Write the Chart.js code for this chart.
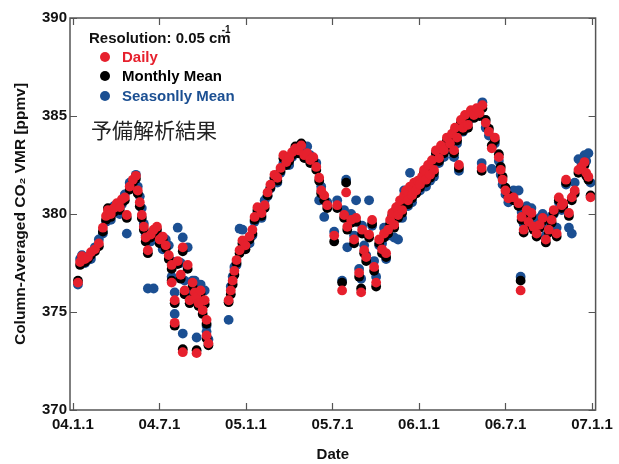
<!DOCTYPE html>
<html>
<head>
<meta charset="utf-8">
<script src="https://cdn.jsdelivr.net/npm/chart.js@4"></script>
<style>
  html, body { margin: 0; padding: 0; background: #fff; }
</style>
</head>
<body>
<canvas id="co2Chart" width="619" height="464"></canvas>
<script>
// x positions are months after 2004-01-01
const tickMonths = [0, 6, 12, 18, 24, 30, 36];
const tickLabels = ['04.1.1', '04.7.1', '05.1.1', '05.7.1', '06.1.1', '06.7.1', '07.1.1'];
const yTicks = [370, 375, 380, 385, 390];

const obsMonth = [
  0.35, 0.5, 0.63, 0.84, 1.04, 1.25, 1.53, 1.8, 2.08, 2.3,
  2.43, 2.63, 2.84, 3.05, 3.25, 3.4, 3.6, 3.74, 3.94, 4.16,
  4.37, 4.5, 4.64, 4.78, 4.92, 5.05, 5.2, 5.4, 5.6, 5.83,
  6.02, 6.23, 6.44, 6.65, 6.85, 6.85, 7.06, 7.06, 7.27, 7.48,
  7.62, 7.75, 7.96, 8.1, 8.3, 8.45, 8.58, 8.72, 8.86, 9.0,
  9.14, 9.27, 7.62, 8.58, 9.27, 9.4,
  10.8, 10.95, 11.08, 11.2, 11.35, 11.56, 11.76, 11.97, 12.25, 12.45,
  12.6, 12.8, 13.08, 13.3, 13.5, 13.7, 13.98, 14.18, 14.4, 14.6,
  14.8, 15.0, 15.2, 15.43, 15.63, 15.84, 16.05, 16.25, 16.46, 16.67,
  16.88, 17.08, 17.22, 17.43, 17.64, 18.12, 18.33, 18.67, 18.81, 18.95,
  19.03, 19.3, 19.5, 19.64, 19.85, 19.99, 20.06, 20.2, 20.34, 20.54,
  20.75, 20.89, 21.03,
  21.24, 21.44, 21.58, 21.72, 21.86, 22.0, 22.14, 22.28, 22.42, 22.55,
  22.69, 22.83, 22.97, 23.1, 23.24, 23.38, 23.52, 23.66, 23.8, 23.93,
  24.07, 24.21, 24.35, 24.49, 24.63, 24.77, 24.9, 25.04, 25.18, 25.39,
  25.53, 25.73, 25.94, 26.15, 26.29, 26.43, 26.5, 26.64, 26.77, 26.91,
  27.05, 27.19, 27.4, 27.6, 27.81, 28.0, 28.2, 28.4, 28.35,
  28.63, 28.85, 29.05, 29.26, 29.54, 29.67, 29.8, 30.0, 30.2, 30.56,
  30.91, 31.05, 31.12, 31.26, 31.47, 31.6, 31.8, 31.95, 32.16, 32.37,
  32.58, 32.8, 33.0, 33.2, 33.35, 33.55, 33.7, 33.9, 34.0, 34.2,
  34.4, 34.6, 34.8, 35.06, 35.27, 35.48, 35.6, 35.75, 35.9
];

const daily = [
  376.5, 377.55, 377.85, 377.7, 377.8, 378.05, 378.2, 378.5, 379.3, 379.9,
  380.2, 380.0, 380.3, 380.55, 380.35, 380.75, 380.85, 379.95, 381.4, 381.75,
  381.95, 381.2, 380.6, 379.95, 379.35, 378.8, 378.15, 378.95, 379.2, 379.35,
  378.7, 378.85, 378.4, 377.9, 377.4, 376.5, 375.6, 374.45, 377.6, 376.9,
  378.3, 376.1, 377.4, 375.6, 376.5, 376.0, 375.75, 375.45, 376.1, 375.1,
  375.6, 374.6, 372.95, 372.9, 373.8, 373.4,
  375.6, 376.1, 376.6, 377.1, 377.65, 378.15, 378.65, 378.4, 378.85, 379.2,
  379.85, 380.35, 380.05, 380.45, 381.1, 381.5, 382.0, 381.85, 382.35, 383.0,
  382.65, 382.85, 383.15, 383.35, 383.25, 383.5, 383.0, 383.1, 382.75, 382.9,
  382.4, 381.85, 381.2, 380.95, 380.45, 378.9, 380.45, 376.1, 379.95, 381.1,
  379.35, 379.7, 378.7, 379.8, 377.0, 376.0, 379.2, 378.15, 377.8, 378.95,
  379.7, 377.3, 376.5,
  378.7, 378.2, 379.0, 378.0, 379.2, 379.7, 380.05, 379.45, 380.35, 379.95,
  380.7, 380.2, 380.95, 381.2, 380.7, 381.4, 380.95, 381.6, 381.2, 381.7,
  381.5, 381.9, 382.25, 381.75, 382.5, 382.0, 382.75, 382.25, 383.25, 382.85,
  383.5, 383.25, 383.9, 383.6, 384.1, 383.25, 384.4, 383.9, 382.5, 384.8,
  384.4, 385.05, 384.55, 385.3, 385.05, 385.4, 385.15, 385.55, 382.35,
  384.65, 384.2, 383.35, 383.9, 382.9, 382.25, 381.75, 381.2, 380.8, 380.85,
  380.55, 376.1, 379.85, 379.2, 380.2, 379.6, 380.05, 379.35, 379.0, 379.45,
  379.8, 378.7, 379.2, 379.7, 380.2, 379.0, 380.85, 380.45, 380.55, 381.75,
  380.05, 380.85, 381.2, 382.25, 382.4, 382.65, 382.1, 381.9, 380.85
];

const monthlyMean = [
  376.6, 377.4, 377.7, 377.55, 377.7, 377.9, 378.1, 378.35, 379.1, 379.7,
  380.3, 379.85, 380.1, 380.4, 380.2, 380.6, 380.7, 379.8, 381.25, 381.6,
  381.8, 381.05, 380.4, 379.8, 379.2, 378.6, 378.0, 378.8, 379.0, 379.2,
  378.5, 378.7, 378.25, 377.7, 377.2, 376.6, 375.45, 374.3, 377.45, 376.7,
  378.1, 375.9, 377.2, 375.45, 376.3, 375.8, 375.6, 375.3, 375.95, 374.9,
  375.4, 374.4, 373.1, 373.05, 373.65, 373.3,
  375.5, 375.9, 376.4, 376.9, 377.5, 378.0, 378.5, 378.2, 378.7, 379.0,
  379.7, 380.2, 379.9, 380.3, 380.95, 381.35, 381.85, 381.7, 382.2, 382.85,
  382.5, 382.7, 383.0, 383.45, 383.1, 383.6, 382.85, 382.95, 382.6, 382.75,
  382.25, 381.7, 381.05, 380.7, 380.3, 378.6, 380.3, 376.5, 379.8, 381.6,
  379.2, 379.55, 378.5, 379.6, 376.8, 376.2, 379.0, 378.0, 377.6, 378.8,
  379.5, 377.1, 376.3,
  378.5, 378.0, 378.8, 377.8, 379.0, 379.5, 379.9, 379.3, 380.2, 379.8,
  380.5, 380.05, 380.8, 381.05, 380.5, 381.25, 380.8, 381.45, 381.05, 381.55,
  381.35, 381.75, 382.1, 381.6, 382.35, 381.85, 382.6, 382.1, 383.1, 382.7,
  383.35, 383.1, 383.75, 383.45, 383.95, 383.1, 384.25, 383.75, 382.35, 384.65,
  384.25, 384.9, 384.4, 385.15, 384.9, 385.25, 385.0, 385.4, 382.2,
  384.8, 384.35, 383.5, 383.75, 383.05, 382.4, 381.9, 381.35, 380.95, 380.7,
  380.4, 376.6, 379.7, 379.05, 380.05, 379.45, 379.9, 379.2, 378.85, 379.3,
  379.65, 378.55, 379.05, 379.55, 380.05, 378.85, 380.7, 380.3, 380.4, 381.6,
  379.9, 380.7, 381.05, 382.1, 382.25, 382.5, 381.95, 381.75, 380.95
];

const seasonalMean = [
  376.4, 377.7, 377.9, 377.5, 377.65, 377.7, 378.3, 378.7, 379.0, 379.6,
  380.0, 379.7, 380.4, 380.2, 380.0, 380.5, 381.0, 379.0, 381.6, 381.7,
  382.0, 381.4, 380.9, 380.3, 379.5, 378.9, 376.2, 378.6, 376.2, 379.0,
  378.6, 378.2, 378.7, 378.4, 377.6, 376.8, 376.0, 374.9, 379.3, 377.5,
  378.8, 376.6, 378.3, 375.9, 376.6, 376.6, 376.3, 376.0, 376.4, 375.6,
  376.1, 374.3, 373.9, 373.7, 374.0, 373.6,
  374.6, 376.3, 376.8, 377.3, 377.4, 379.25, 379.2, 378.6, 378.5, 378.9,
  379.6, 380.1, 379.8, 380.7, 380.9, 381.3, 381.8, 381.6, 382.1, 382.6,
  382.9, 382.5, 382.9, 383.1, 383.4, 383.3, 383.2, 383.45, 383.0, 382.7,
  382.6, 380.7, 381.4, 379.85, 380.6, 379.1, 380.7, 376.6, 380.2, 381.75,
  378.3, 380.0, 378.9, 380.7, 377.2, 376.7, 379.4, 378.4, 377.9, 380.7,
  379.4, 377.6, 376.8,
  378.4, 378.5, 379.3, 377.7, 378.9, 379.4, 379.7, 378.8, 380.0, 378.7,
  380.4, 379.8, 381.2, 381.0, 380.4, 382.1, 380.6, 381.3, 381.4, 381.5,
  381.2, 381.6, 382.0, 381.4, 382.2, 381.7, 382.5, 381.9, 383.0, 382.6,
  383.2, 382.9, 383.6, 383.3, 383.8, 382.9, 384.1, 383.6, 382.2, 384.5,
  384.2, 384.8, 384.7, 385.1, 385.2, 385.3, 385.4, 385.7, 382.6,
  384.4, 384.0, 382.3, 383.6, 382.7, 382.0, 381.5, 381.0, 380.6, 381.2,
  381.2, 376.8, 380.1, 379.5, 380.4, 379.9, 380.3, 379.6, 379.2, 379.8,
  380.0, 378.9, 379.4, 379.9, 380.0, 379.3, 380.6, 380.2, 380.3, 381.5,
  379.3, 379.0, 381.6, 382.8, 382.6, 383.0, 382.7, 383.1, 381.6
];

const RED = '#e6202d';
const BLACK = '#000000';
const BLUE = '#1b4f92';

function toPoints(vals) {
  return obsMonth.map((m, i) => ({ x: m, y: vals[i] }));
}

// frame with inward ticks on all four sides, plus the in-plot legend
const framePlugin = {
  id: 'frame',
  afterDraw(chart) {
    const { ctx, chartArea: a, scales: { x, y } } = chart;
    ctx.save();
    ctx.strokeStyle = '#555';
    ctx.lineWidth = 1.5;
    ctx.strokeRect(a.left, a.top, a.right - a.left, a.bottom - a.top);
    ctx.lineWidth = 1.2;
    ctx.beginPath();
    tickMonths.forEach(m => {
      const px = Math.round(x.getPixelForValue(m)) + 0.5;
      ctx.moveTo(px, a.bottom); ctx.lineTo(px, a.bottom - 7);
      ctx.moveTo(px, a.top); ctx.lineTo(px, a.top + 7);
    });
    yTicks.forEach(v => {
      const py = Math.round(y.getPixelForValue(v)) + 0.5;
      ctx.moveTo(a.left, py); ctx.lineTo(a.left + 7, py);
      ctx.moveTo(a.right, py); ctx.lineTo(a.right - 7, py);
    });
    ctx.stroke();

    // legend block
    ctx.textBaseline = 'alphabetic';
    ctx.fillStyle = '#111';
    ctx.font = 'bold 15px "Liberation Sans", Arial, sans-serif';
    const res = 'Resolution: 0.05 cm';
    ctx.fillText(res, 89, 43);
    const w = ctx.measureText(res).width;
    ctx.font = 'bold 10px "Liberation Sans", Arial, sans-serif';
    ctx.fillText('-1', 89 + w - 9, 33);

    const rows = [
      ['Daily', RED, 57, 62],
      ['Monthly Mean', BLACK, 76, 81],
      ['Seasonlly Mean', BLUE, 96, 101]
    ];
    ctx.font = 'bold 15px "Liberation Sans", Arial, sans-serif';
    rows.forEach(([label, col, dy, ty]) => {
      ctx.fillStyle = col;
      ctx.beginPath();
      ctx.arc(105, dy, 5, 0, Math.PI * 2);
      ctx.fill();
      ctx.fillText(label, 122, ty);
    });

    ctx.fillStyle = '#222';
    ctx.font = '21px "Noto Sans CJK JP", sans-serif';
    ctx.textBaseline = 'middle';
    ctx.fillText('予備解析結果', 91, 130);
    ctx.restore();
  }
};

const pointStyle = { pointRadius: 4.9, pointHoverRadius: 4.9, borderWidth: 0, showLine: false };

new Chart(document.getElementById('co2Chart'), {
  type: 'scatter',
  data: {
    datasets: [
      { label: 'Daily', data: toPoints(daily), backgroundColor: RED, ...pointStyle },
      { label: 'Monthly Mean', data: toPoints(monthlyMean), backgroundColor: BLACK, ...pointStyle },
      { label: 'Seasonlly Mean', data: toPoints(seasonalMean), backgroundColor: BLUE, ...pointStyle },
    ],
  },
  options: {
    responsive: false, animation: false,
    events: [],
    layout: { padding: { top: 18, right: 22, left: 0, bottom: 0 } },
    plugins: { legend: { display: false }, tooltip: { enabled: false } },
    scales: {
      x: {
        type: 'linear', min: -0.2, max: 36.25,
        afterBuildTicks: s => { s.ticks = tickMonths.map(v => ({ value: v })); },
        afterFit: s => { s.height = 54; },
        grid: { display: false, drawTicks: false },
        border: { display: false },
        ticks: {
          autoSkip: false, maxRotation: 0, padding: 6, color: '#111',
          font: { family: '"Liberation Sans", Arial, sans-serif', size: 15, weight: 'bold' },
          callback: v => tickLabels[tickMonths.indexOf(v)],
        },
        title: {
          display: true, text: 'Date', color: '#111', padding: { top: 0, bottom: 0 },
          font: { family: '"Liberation Sans", Arial, sans-serif', size: 15, weight: 'bold' },
        },
      },
      y: {
        min: 370, max: 390,
        afterBuildTicks: s => { s.ticks = yTicks.map(v => ({ value: v })); },
        afterFit: s => { s.width = 70; },
        grid: { display: false, drawTicks: false },
        border: { display: false },
        ticks: {
          padding: 3, color: '#111',
          font: { family: '"Liberation Sans", Arial, sans-serif', size: 15, weight: 'bold' },
        },
        title: {
          display: true, text: 'Column-Averaged CO₂ VMR [ppmv]', color: '#111',
          padding: { top: 11, bottom: 0 },
          font: { family: '"Liberation Sans", Arial, sans-serif', size: 15.5, weight: 'bold' },
        },
      },
    },
  },
  plugins: [framePlugin],
});
</script>
</body>
</html>
